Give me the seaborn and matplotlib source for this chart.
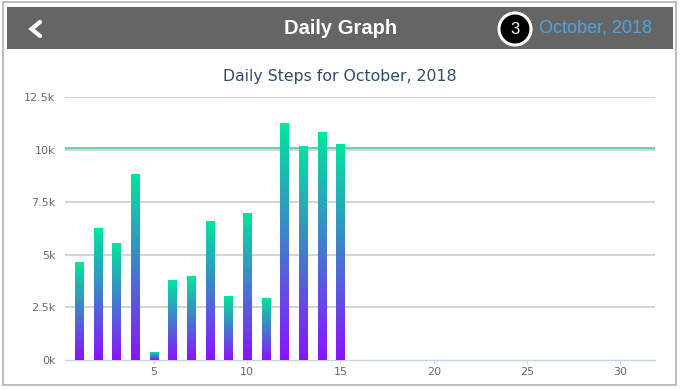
import numpy as np
import pandas as pd
import seaborn as sns
import matplotlib.pyplot as plt
import matplotlib.transforms as mtransforms
from matplotlib.patches import Rectangle, Circle
from matplotlib.colors import LinearSegmentedColormap

# data
days = [1, 2, 3, 4, 5, 6, 7, 8, 9, 10, 11, 12, 13, 14, 15]
steps = [4650, 6270, 5570, 8840, 360, 3800, 3990, 6620, 3040, 6990, 2950, 11260, 10170, 10840, 10270]
goal = 10000
y_ticks = [0, 2500, 5000, 7500, 10000, 12500]
y_labels = ["0k", "2.5k", "5k", "7.5k", "10k", "12.5k"]
x_ticks = [5, 10, 15, 20, 25, 30]

df = pd.DataFrame({"Day": days, "Steps": steps})

sns.set_style("white")
plt.rcParams['font.family'] = ['DejaVu Sans']

fig = plt.figure(figsize=(6.81, 3.89), dpi=100)
ax = fig.add_axes([65 / 681, 1 - 360 / 389, 590 / 681, 263 / 389])

sns.barplot(data=df, x="Day", y="Steps", native_scale=True, width=0.43,
            errorbar=None, ax=ax, zorder=3)

# each bar gets its own purple -> green gradient
grad_cmap = LinearSegmentedColormap.from_list("steps", ["#8a12ff", "#437dcd", "#00e79c"])
grad = np.linspace(0, 1, 256).reshape(-1, 1)
for p in ax.patches:
    x0, w, h = p.get_x(), p.get_width(), p.get_height()
    im = ax.imshow(grad, extent=[x0, x0 + w, 0, h], origin="lower", aspect="auto",
                   cmap=grad_cmap, zorder=3)
    im.set_clip_path(p)
    p.set_facecolor("none")
    p.set_edgecolor("none")

# grid lines
for t in y_ticks[1:]:
    ax.axhline(t, color="#c8c8c8", lw=1.1, zorder=1)
# goal line sits just above the 10k grid line
up = mtransforms.offset_copy(ax.get_yaxis_transform(), fig=fig, x=0, y=1.2, units="dots")
ax.plot([0, 1], [goal, goal], color="#4cc896", lw=1.2, zorder=2, transform=up)

ax.set_xlim(0.25, 31.85)
ax.set_ylim(0, 12500)
ax.set_yticks(y_ticks)
ax.set_yticklabels(y_labels)
ax.set_xticks(x_ticks)
ax.set_xlabel("")
ax.set_ylabel("")
for s in ["top", "right", "left"]:
    ax.spines[s].set_visible(False)
ax.spines["bottom"].set_color("#c6d6e6")
ax.spines["bottom"].set_linewidth(1.0)
ax.tick_params(axis="y", length=0, pad=7, labelsize=8, labelcolor="#6a6a6a")
ax.tick_params(axis="x", length=3, width=0.8, color="#c6d6e6", pad=2,
               labelsize=8, labelcolor="#6a6a6a", bottom=True)

fig.text(340 / 681, 1 - 77 / 389, "Daily Steps for October, 2018", ha="center",
         va="center", fontsize=11.3, color="#2f4b6e")

# app header bar
fig.patches.append(Rectangle((7 / 681, 1 - 49 / 389), 666 / 681, 42 / 389,
                             transform=fig.transFigure, facecolor="#656565",
                             edgecolor="none", zorder=0))
fig.text(341 / 681, 1 - 28 / 389, "Daily Graph", ha="center", va="center",
         fontsize=14.5, fontweight="bold", color="white", family=["Liberation Sans"])
fig.text(539 / 681, 1 - 28 / 389, "October, 2018", ha="left", va="center",
         fontsize=13, color="#4ea4e2", family=["Liberation Sans"])
fig.lines.append(plt.Line2D([0.40, 0.315, 0.40], [3.67, 3.60, 3.53],
                            transform=fig.dpi_scale_trans, color="white", lw=3,
                            solid_capstyle="round", solid_joinstyle="miter"))
fig.patches.append(Circle((5.15, 3.60), 0.16, transform=fig.dpi_scale_trans,
                          facecolor="black", edgecolor="white", lw=2.2))
fig.text(5.15 / 6.81, 3.60 / 3.89, "3", ha="center", va="center", fontsize=12,
         color="white", family=["Liberation Sans"])

# screenshot frame
fig.patches.append(Rectangle((3 / 681, 1 - 385 / 389), 673 / 681, 383 / 389,
                             transform=fig.transFigure, facecolor="none",
                             edgecolor="#b0b0b0", lw=1.2, zorder=0))

fig.savefig("out.png", dpi=100)
